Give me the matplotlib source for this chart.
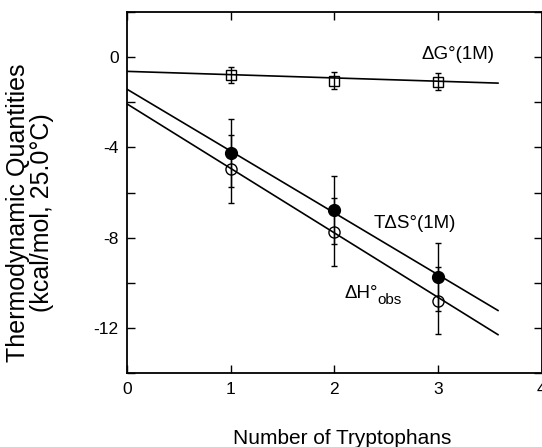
import numpy as np
import matplotlib
matplotlib.use("Agg")
import matplotlib.pyplot as plt
from matplotlib.ticker import MultipleLocator

plt.rcParams["font.family"] = ["Liberation Sans", "DejaVu Sans"]

# number of tryptophans
n_trp = [1, 2, 3]

# ΔG°(1M), TΔS°(1M), ΔH°obs in kcal/mol at 25.0 °C
dG = [-0.8, -1.05, -1.1]
dG_err = [0.37, 0.37, 0.37]
TdS = [-4.25, -6.77, -9.74]
TdS_err = [1.5, 1.5, 1.5]
dH = [-4.97, -7.74, -10.78]
dH_err = [1.5, 1.5, 1.5]

# fitted straight lines (end points)
fit_x = [0.0, 3.58]
fit_dG = [-0.64, -1.16]
fit_TdS = [-1.43, -11.22]
fit_dH = [-2.08, -12.29]

y_ticks = [-14, -12, -10, -8, -6, -4, -2, 0, 2]
y_ticklabels = ["", "-12", "", "-8", "", "-4", "", "0", ""]

fig = plt.figure(figsize=(5.42, 4.47), dpi=100)
ax = fig.add_axes([127 / 542, 1 - 373.3 / 447, 414.5 / 542, 361.6 / 447])

lw = 1.2
for fy in (fit_dG, fit_TdS, fit_dH):
    ax.plot(fit_x, fy, color="black", lw=lw)

ekw = dict(ecolor="black", elinewidth=1.0, capsize=2.3, capthick=1.0,
           color="black", ls="none")
ax.errorbar(n_trp, dG, yerr=dG_err, marker="s", ms=6.5, mfc="none",
            mec="black", mew=1.0, **ekw)
ax.errorbar(n_trp, dH, yerr=dH_err, marker="o", ms=8, mfc="none",
            mec="black", mew=1.0, **ekw)
ax.errorbar(n_trp, TdS, yerr=TdS_err, marker="o", ms=8.5, mfc="black",
            mec="black", mew=1.0, **ekw)

ax.text(2.84, -0.09, "ΔG°(1M)", fontsize=13.5, va="baseline", ha="left")
ax.text(2.38, -7.37, "TΔS°(1M)", fontsize=13.5, va="center", ha="left")
ax.text(2.10, -10.66, "ΔH°", fontsize=13.5, va="baseline", ha="left")
ax.text(2.42, -10.95, "obs", fontsize=11, va="baseline", ha="left")

ax.set_xlim(0, 4)
ax.set_ylim(-14, 2)
ax.xaxis.set_major_locator(MultipleLocator(1))
ax.set_yticks(y_ticks)
ax.set_yticklabels(y_ticklabels)
ax.set_ylim(-14, 2)
ax.tick_params(direction="in", length=6, width=1.0, labelsize=12.5,
               top=True, right=True, pad=6)

for s in ax.spines.values():
    s.set_linewidth(1.3)

ax.set_xlabel("Number of Tryptophans", fontsize=15)
ax.xaxis.set_label_coords(0.52, -0.155)
ax.set_ylabel("Thermodynamic Quantities\n(kcal/mol, 25.0°C)", fontsize=18,
              linespacing=1.02)
ax.yaxis.set_label_coords(-0.176, 0.443)

fig.savefig("out.png", dpi=100)
